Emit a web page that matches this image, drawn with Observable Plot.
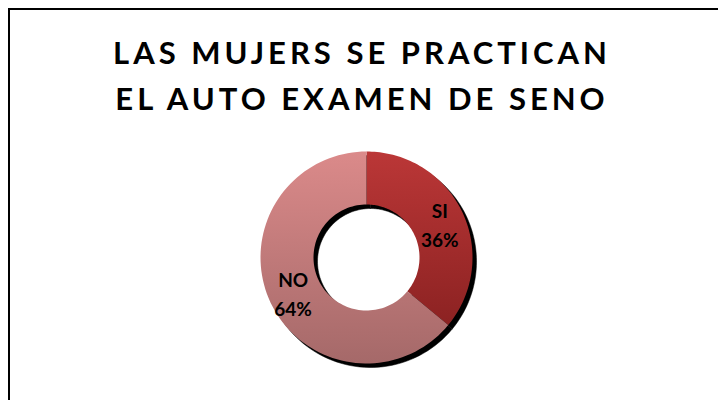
<!DOCTYPE html>
<html>
<head>
<meta charset="utf-8">
<script src="https://cdn.jsdelivr.net/npm/d3@7"></script>
<script src="https://cdn.jsdelivr.net/npm/@observablehq/plot@0.6"></script>
<style>
  html, body { margin: 0; padding: 0; background: #fff; overflow: hidden; width: 718px; height: 400px; }
  #border { position: absolute; left: 8px; top: 8px; width: 760px; height: 440px; border-left: 2px solid #000; border-top: 2px solid #000; pointer-events: none; }
  #title { width: 718px; height: 135px; box-sizing: border-box; padding-top: 30px; padding-left: 6px; text-align: center;
           font-family: Lato, "Open Sans", sans-serif; font-weight: 700; font-size: 31px; line-height: 45.5px; letter-spacing: 4px; color: #000; }
  #chart svg { display: block; }
</style>
</head>
<body>
<div id="title"><div>LAS MUJERS SE PRACTICAN</div><div>EL AUTO EXAMEN DE SENO</div></div>
<div id="chart"></div>
<div id="border"></div>
<script>
const categories = ["SI", "NO"];
const values = [36, 64];
const labels = ["SI\n36%", "NO\n64%"];

const gradients = {
  SI: ["#bb3737", "#8c2222"],
  NO: ["#db8a8a", "#a56969"]
};

const innerRatio = 0.5;
const arcs = d3.pie().sort(null).startAngle(0).endAngle(2 * Math.PI)(values);

// Ring-slice outlines from pie angles (polar -> cartesian in data units)
const pts = [];
arcs.forEach((a, i) => {
  const key = categories[i];
  const n = 90;
  for (let k = 0; k <= n; k++) {
    const t = a.startAngle + (a.endAngle - a.startAngle) * k / n;
    pts.push({key, x: Math.sin(t), y: Math.cos(t)});
  }
  for (let k = n; k >= 0; k--) {
    const t = a.startAngle + (a.endAngle - a.startAngle) * k / n;
    pts.push({key, x: innerRatio * Math.sin(t), y: innerRatio * Math.cos(t)});
  }
});

const labelData = arcs.map((a, i) => {
  const m = (a.startAngle + a.endAngle) / 2;
  const r = 0.765;
  return {text: labels[i], x: r * Math.sin(m), y: r * Math.cos(m)};
});

const cx = 366, cy = 257 - 135, R = 106;

const chart = Plot.plot({
  width: 718,
  height: 265,
  margin: 0,
  x: {domain: [-1, 1], range: [cx - R, cx + R], axis: null},
  y: {domain: [-1, 1], range: [cy + R, cy - R], axis: null},
  marks: [
    Plot.line(pts, {x: "x", y: "y", z: "key", fill: "#000", stroke: "#000", strokeWidth: 0.5, curve: "linear-closed", dx: 4, dy: 4}),
    ...categories.map(c => Plot.line(pts.filter(p => p.key === c), {x: "x", y: "y", fill: `url(#grad-${c})`, stroke: "none", curve: "linear-closed"})),
    Plot.text(labelData, {x: "x", y: "y", text: "text", fontSize: 19, fontWeight: "bold", fill: "#000", lineHeight: 1.55, fontFamily: "Lato, 'Open Sans', sans-serif"})
  ]
});

const svg = d3.select(chart);
const defs = svg.insert("defs", ":first-child");
for (const c of categories) {
  const g = defs.append("linearGradient").attr("id", `grad-${c}`).attr("x1", 0).attr("y1", 0).attr("x2", 0).attr("y2", 1);
  g.append("stop").attr("offset", "0%").attr("stop-color", gradients[c][0]);
  g.append("stop").attr("offset", "100%").attr("stop-color", gradients[c][1]);
}
svg.style("font-family", "Lato, 'Open Sans', sans-serif");

document.getElementById("chart").appendChild(chart);
</script>
</body>
</html>
